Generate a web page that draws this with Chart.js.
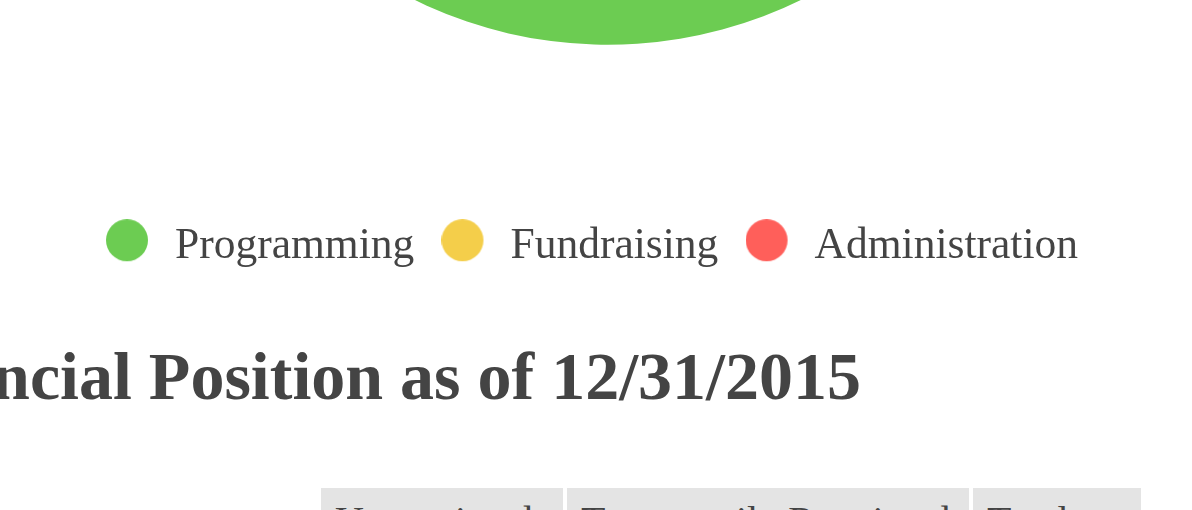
<!DOCTYPE html>
<html>
<head>
<meta charset="utf-8">
<script src="https://cdn.jsdelivr.net/npm/chart.js@4.4.1/dist/chart.umd.min.js"></script>
<style>
html, body { margin: 0; padding: 0; background: #fff; }
body { width: 1192px; height: 510px; overflow: hidden; position: relative; }
#pieBox { position: absolute; left: 0; top: -984px; width: 1137px; height: 1262px; }
h2 {
    position: absolute; right: 331px; top: 342px; width: max-content; margin: 0;
    font: bold 68px/68px "Liberation Serif", serif; color: #444; white-space: nowrap;
}
table.fin {
    position: absolute; left: 317px; top: 488px;
    border-collapse: separate; border-spacing: 4px 0; table-layout: fixed;
}
table.fin th {
    box-sizing: border-box; background: #e4e4e4; color: #444; text-align: left;
    font: normal 40px "Liberation Serif", serif; padding: 9px 14px 8px; white-space: nowrap; overflow: hidden;
}
</style>
</head>
<body>
<div id="pieBox"><canvas id="expensePie"></canvas></div>
<h2>Statement of Financial Position as of 12/31/2015</h2>
<table class="fin">
    <tr><th style="width:242px">Unrestricted</th><th style="width:402px">Temporarily Restricted</th><th style="width:168px">Total</th></tr>
</table>
<script>
// dados do grafico
const categories = ['Programming', 'Fundraising', 'Administration'];
const expenseShares = [76, 9, 15];
const sliceColors = ['#6ccc52', '#f4ce4a', '#ff5f5a'];

// bolinha da legenda (um pouco deslocada para alinhar com o texto)
function legendDot(color) {
    const c = document.createElement('canvas');
    c.width = 51;
    c.height = 54;
    const ctx = c.getContext('2d');
    ctx.fillStyle = color;
    ctx.beginPath();
    ctx.arc(21, 21, 21, 0, Math.PI * 2);
    ctx.fill();
    return c;
}

const pieCanvas = document.getElementById('expensePie');

new Chart(pieCanvas, {
    type: 'pie',
    data: {
        labels: categories,
        datasets: [{
            data: expenseShares,
            backgroundColor: sliceColors,
            borderWidth: 0
        }]
    },
    options: {
        responsive: true,
        maintainAspectRatio: false,
        animation: false,
        radius: 440,
        layout: { padding: { left: 78.75 } },
        plugins: {
            tooltip: { enabled: false },
            legend: {
                position: 'bottom',
                align: 'start',
                labels: {
                    usePointStyle: true,
                    boxWidth: 43.5,
                    padding: 31,
                    color: '#444',
                    font: { family: '"Liberation Serif", serif', size: 43.5 },
                    generateLabels(chart) {
                        const items = Chart.overrides.pie.plugins.legend.labels.generateLabels(chart);
                        items.forEach((item, i) => { item.pointStyle = legendDot(sliceColors[i]); });
                        return items;
                    }
                }
            }
        }
    }
});
</script>
</body>
</html>
